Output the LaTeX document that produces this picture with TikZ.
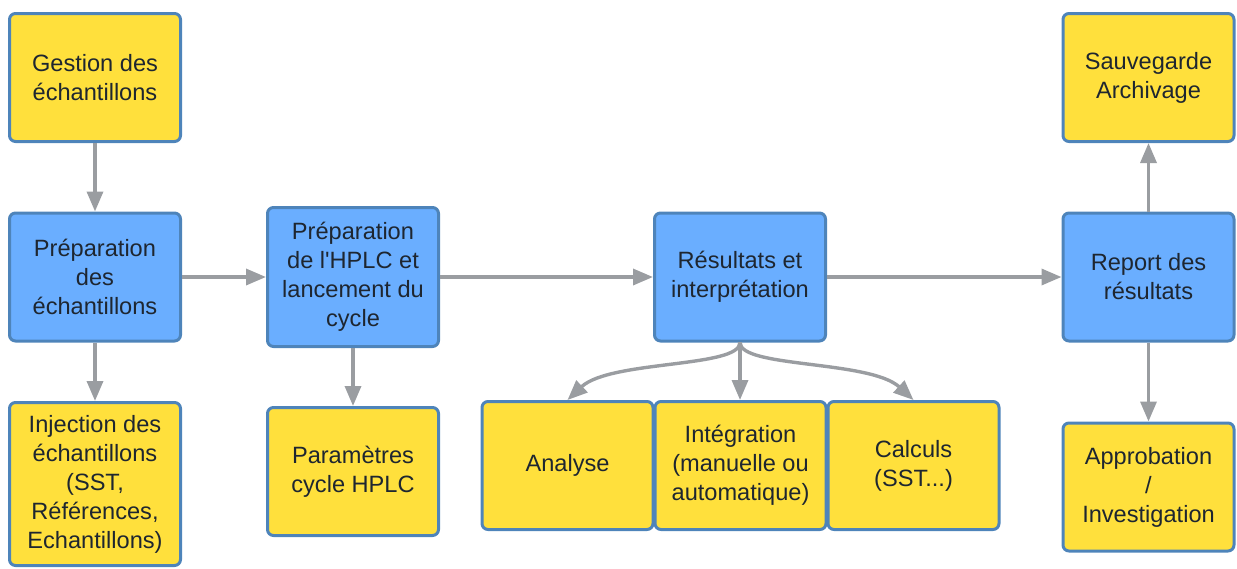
\documentclass[tikz,border=0pt]{standalone}
\usepackage{fontspec}
\setmainfont{Liberation Sans}[Ligatures=TeXOff]
\usetikzlibrary{arrows.meta}
\definecolor{boxyellow}{HTML}{FFE03C}
\definecolor{boxblue}{HTML}{6AAEFF}
\definecolor{boxline}{HTML}{4E84BA}
\definecolor{arrowgrey}{HTML}{9A9DA1}
\definecolor{txt}{HTML}{1E2630}
\begin{document}
\begin{tikzpicture}[x=1pt,y=-1pt,
	box/.style={draw=boxline,line width=3pt,rounded corners=6pt,align=center,text=txt,
		minimum width=171pt,minimum height=128pt,inner sep=2pt,font=\fontsize{23.6}{29}\selectfont},
	yel/.style={box,fill=boxyellow},
	blu/.style={box,fill=boxblue},
	flow/.style={draw=arrowgrey,line width=3.4pt,-{Triangle[length=20pt,width=16pt]}}]
	\useasboundingbox (0,0) rectangle (1237,568);
	\begin{scope}
		\node[yel] (gestion) at (95,77.5) {Gestion des\\échantillons};
		\node[blu] (prepech) at (95,277) {Préparation\\des\\échantillons};
		\node[yel,minimum height=163pt] (injection) at (95,484) {Injection des\\échantillons\\(SST,\\Références,\\Echantillons)};
		\node[blu,minimum height=139pt] (prephplc) at (353,277) {Préparation\\de l'HPLC et\\lancement du\\cycle};
		\node[yel] (param) at (353,471.5) {Paramètres\\cycle HPLC};
		\node[blu] (resultats) at (740,277) {Résultats et\\interprétation};
		\node[yel] (analyse) at (567.5,465.5) {Analyse};
		\node[yel] (integration) at (740.5,465.5) {Intégration\\(manuelle ou\\automatique)};
		\node[yel] (calculs) at (913.5,465.5) {Calculs\\(SST...)};
		\node[yel] (sauvegarde) at (1148.5,77.5) {Sauvegarde\\Archivage};
		\node[blu] (report) at (1148.5,277) {Report des\\résultats};
		\node[yel] (approbation) at (1148.5,487) {Approbation\\/\\Investigation};
	\end{scope}
	\draw [flow](gestion) -- (prepech);
	\draw [flow](prepech) -- (injection);
	\draw [flow](prepech) -- (prephplc);
	\draw [flow](prephplc) -- (param);
	\draw [flow](prephplc.east|-resultats) -- (resultats);
	\draw [flow](resultats) -- (report);
	\draw [flow](report) -- (sauvegarde);
	\draw [flow](report) -- (approbation);
	\draw [flow](resultats.south) -- (resultats.south|-integration.north);
	\draw [flow](resultats.south) .. controls (740,368) and (610,360) .. (analyse.north);
	\draw [flow](resultats.south) .. controls (740,368) and (870,360) .. (calculs.north);
	
\end{tikzpicture}
\end{document}
